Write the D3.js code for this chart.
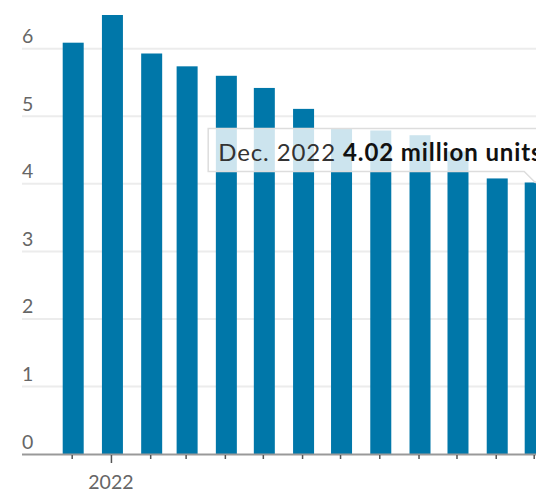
<!DOCTYPE html>
<html>
<head>
<meta charset="utf-8">
<script src="https://cdn.jsdelivr.net/npm/d3@7"></script>
<style>
  html, body { margin: 0; padding: 0; background: #fff; overflow: hidden; }
  svg { display: block; font-family: Lato, "Source Sans Pro", sans-serif; }
</style>
</head>
<body>
<div class="chart"></div>
<script>
// monthly existing home sales, million units
var months = ["2021-12", "2022-01", "2022-02", "2022-03", "2022-04", "2022-05", "2022-06",
              "2022-07", "2022-08", "2022-09", "2022-10", "2022-11", "2022-12"];
var sales = [6.09, 6.50, 5.93, 5.74, 5.60, 5.42, 5.11, 4.82, 4.79, 4.72, 4.48, 4.08, 4.02];
var yTicks = [0, 1, 2, 3, 4, 5, 6];
var yearLabels = ["2022"];
var tipDate = "Dec. 2022";
var tipValue = "4.02 million units";

function drawChart() {
    var width = 536,
        height = 496,
        marginLeft = 22,
        baseY = 454,
        topY = 15,
        barWidth = 21;

    var parse = d3.utcParse("%Y-%m");
    var dates = months.map(parse);

    var svg = d3.select(".chart").append("svg")
        .attr("width", width)
        .attr("height", height);

    var x = d3.scaleUtc()
        .domain([dates[0], dates[dates.length - 1]])
        .range([71.7, 533.7]);

    var y = d3.scaleLinear()
        .domain([0, d3.max(sales)])
        .range([baseY, topY]);

    // gridlines + y labels
    svg.append("g").selectAll("line")
        .data(yTicks.filter(function (d) { return d > 0; }))
        .enter().append("line")
        .attr("x1", marginLeft).attr("x2", width)
        .attr("y1", function (d) { return y(d); })
        .attr("y2", function (d) { return y(d); })
        .attr("stroke", "#ececec")
        .attr("stroke-width", 2);

    svg.append("g").selectAll("text")
        .data(yTicks)
        .enter().append("text")
        .attr("x", marginLeft)
        .attr("y", function (d) { return y(d) - 5.5; })
        .attr("fill", "#666")
        .style("font-size", "19.5px")
        .text(function (d) { return d; });

    // bars
    svg.append("g").selectAll("rect")
        .data(sales)
        .enter().append("rect")
        .attr("x", function (d, i) { return x(dates[i]) - barWidth / 2 + 1.5; })
        .attr("y", function (d) { return y(d); })
        .attr("width", barWidth)
        .attr("height", function (d) { return baseY - y(d); })
        .attr("fill", "#0077a9");

    // x axis
    svg.append("line")
        .attr("x1", marginLeft).attr("x2", width)
        .attr("y1", baseY + 0.5).attr("y2", baseY + 0.5)
        .attr("stroke", "#999")
        .attr("stroke-width", 2);

    var xAxis = d3.axisBottom(x)
        .ticks(d3.utcMonth.every(1))
        .tickSize(0)
        .tickFormat("");

    var ax = svg.append("g")
        .attr("transform", "translate(0," + (baseY + 1) + ")")
        .call(xAxis);
    ax.select(".domain").remove();
    ax.selectAll(".tick line")
        .attr("y2", function (d) { return d.getUTCMonth() === 0 ? 8 : 4; })
        .attr("stroke", "#555")
        .attr("stroke-width", 1.5);

    svg.append("g").selectAll("text")
        .data(yearLabels)
        .enter().append("text")
        .attr("x", function (d) { return x(d3.utcParse("%Y")(d)); })
        .attr("y", 489)
        .attr("text-anchor", "middle")
        .attr("fill", "#666")
        .style("font-size", "19.5px")
        .text(function (d) { return d; });

    // tooltip on the last bar
    var last = sales.length - 1,
        tipX = x(dates[last]) + 1.5,
        tipY = y(sales[last]);

    var tip = svg.append("g");
    var box = tip.append("path");
    var label = tip.append("text")
        .attr("x", tipX - 317)
        .attr("y", tipY - 21)
        .style("font-size", "24px")
        .style("letter-spacing", "0.9px");
    label.append("tspan").attr("fill", "#333").text(tipDate + " ");
    label.append("tspan").attr("fill", "#111").style("font-weight", "bold").text(tipValue);

    var tw = label.node().getComputedTextLength();
    var bx0 = tipX - 327, bx1 = bx0 + tw + 20,
        by0 = tipY - 54, by1 = tipY - 11;

    box.attr("d", "M" + bx0 + "," + by0 + "H" + bx1 + "V" + by1 +
            "H" + (tipX + 11) + "L" + tipX + "," + tipY + "L" + (tipX - 11) + "," + by1 +
            "H" + bx0 + "Z")
        .attr("fill", "rgba(255,255,255,0.8)")
        .attr("stroke", "#ddd")
        .attr("stroke-width", 1.5);
}

drawChart();
</script>
</body>
</html>
